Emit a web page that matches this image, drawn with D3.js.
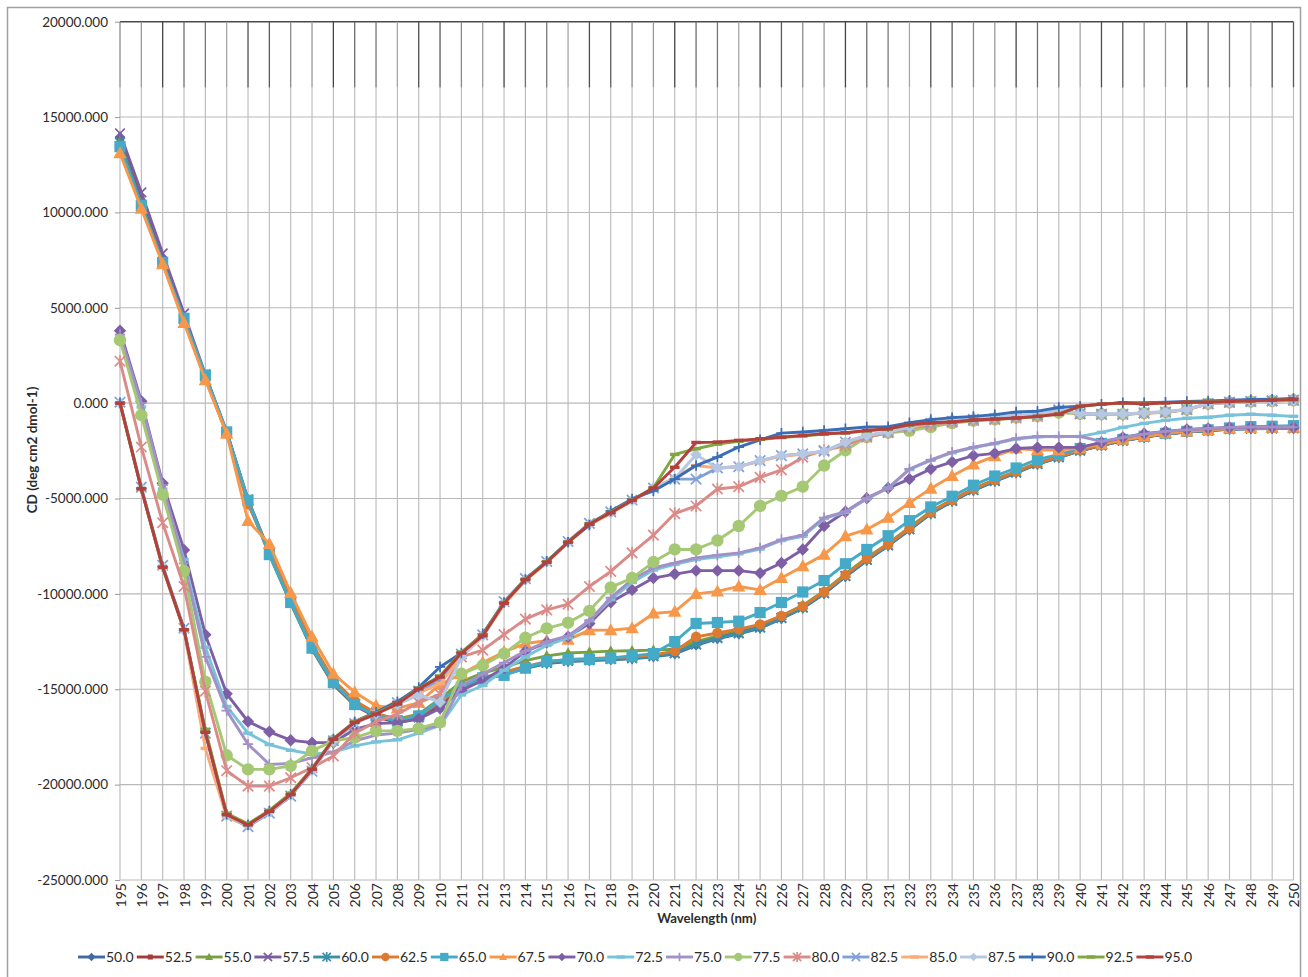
<!DOCTYPE html>
<html>
<head>
<meta charset="utf-8">
<script src="https://cdn.jsdelivr.net/npm/d3@7"></script>
<style>
  body { margin: 0; background: #fff; }
  text { font-family: Lato, "Open Sans", sans-serif; fill: #2b2b2b; }
</style>
</head>
<body>
<svg id="chart" width="1308" height="977"></svg>
<script>
// Wavelength categories (nm)
const wavelengths = [195,196,197,198,199,200,201,202,203,204,205,206,207,208,209,210,
  211,212,213,214,215,216,217,218,219,220,221,222,223,224,225,226,227,228,229,230,
  231,232,233,234,235,236,237,238,239,240,241,242,243,244,245,246,247,248,249,250];

const yTicks = [-25000,-20000,-15000,-10000,-5000,0,5000,10000,15000,20000];

// Series names (temperature, °C)
const temperatures = ["50.0","52.5","55.0","57.5","60.0","62.5","65.0","67.5","70.0","72.5",
  "75.0","77.5","80.0","82.5","85.0","87.5","90.0","92.5","95.0"];

// CD signal per temperature, one value per wavelength
const cd50_0 = [13950,10600,7600,4500,1400,-1550,-5100,-7850,-10400,-12850,-14700,-15800,-16400,-16700,-16500,-15750,-14950,-14500,-14200,-13900,-13650,-13550,-13500,-13450,-13400,-13300,-13150,-12700,-12350,-12100,-11800,-11300,-10750,-10000,-9100,-8250,-7480,-6650,-5800,-5150,-4580,-4100,-3650,-3200,-2850,-2500,-2220,-1970,-1790,-1620,-1520,-1440,-1370,-1340,-1330,-1330];
const cd52_5 = [13800,10500,7500,4450,1380,-1580,-5150,-7900,-10450,-12900,-14750,-15850,-16450,-16750,-16550,-15800,-14900,-14450,-14150,-13850,-13600,-13500,-13450,-13400,-13350,-13250,-13100,-12600,-12280,-12030,-11720,-11220,-10680,-9930,-9030,-8180,-7420,-6580,-5740,-5100,-4530,-4050,-3610,-3170,-2820,-2480,-2200,-1950,-1770,-1600,-1500,-1420,-1350,-1320,-1310,-1300];
const cd55_0 = [13750,10450,7450,4400,1350,-1600,-5200,-7950,-10500,-12900,-14700,-15750,-16300,-16550,-16300,-15500,-14600,-14150,-13850,-13500,-13250,-13100,-13050,-13000,-12980,-12950,-12900,-12500,-12200,-11950,-11650,-11150,-10600,-9850,-8950,-8100,-7350,-6520,-5680,-5050,-4480,-4000,-3570,-3130,-2790,-2450,-2180,-1930,-1760,-1590,-1490,-1410,-1340,-1310,-1300,-1300];
const cd57_5 = [14150,11050,7850,4700,1500,-1500,-5050,-7800,-10350,-12800,-14650,-15750,-16350,-16650,-16450,-15700,-14900,-14450,-14150,-13850,-13600,-13500,-13450,-13400,-13350,-13250,-13100,-12650,-12300,-12050,-11750,-11250,-10700,-9950,-9050,-8200,-7440,-6600,-5760,-5110,-4550,-4070,-3630,-3180,-2830,-2490,-2210,-1960,-1780,-1610,-1510,-1430,-1360,-1330,-1320,-1310];
const cd60_0 = [13650,10400,7400,4400,1420,-1520,-5080,-7900,-10420,-12850,-14680,-15800,-16420,-16700,-16480,-15650,-14920,-14480,-14230,-13900,-13620,-13520,-13480,-13420,-13380,-13280,-13120,-12640,-12320,-12070,-11770,-11270,-10720,-9970,-9070,-8220,-7460,-6620,-5780,-5130,-4560,-4080,-3640,-3190,-2840,-2490,-2210,-1960,-1780,-1610,-1510,-1430,-1360,-1330,-1320,-1320];
const cd62_5 = [13400,10300,7350,4300,1300,-1580,-5300,-7700,-10200,-12600,-14500,-15600,-16250,-16600,-16400,-15650,-14850,-14400,-14100,-13800,-13550,-13450,-13400,-13350,-13300,-13200,-13000,-12250,-12050,-11850,-11600,-11150,-10650,-9900,-9000,-8150,-7400,-6560,-5720,-5080,-4510,-4030,-3590,-3150,-2800,-2470,-2190,-1940,-1760,-1590,-1490,-1410,-1340,-1310,-1300,-1290];
const cd65_0 = [13450,10370,7380,4450,1480,-1510,-5090,-7940,-10450,-12830,-14650,-15800,-16400,-16650,-16400,-15550,-14900,-14400,-14270,-13890,-13540,-13430,-13430,-13360,-13250,-13130,-12500,-11550,-11500,-11430,-10980,-10450,-9900,-9300,-8420,-7670,-6950,-6160,-5440,-4880,-4300,-3820,-3400,-2950,-2700,-2380,-2110,-1900,-1740,-1580,-1480,-1400,-1300,-1230,-1210,-1180];
const cd67_5 = [13100,10190,7290,4210,1210,-1600,-6180,-7380,-9950,-12250,-14190,-15150,-15860,-16000,-15700,-14750,-14200,-13600,-13050,-12600,-12450,-12400,-11900,-11900,-11800,-11030,-10930,-10000,-9870,-9610,-9790,-9170,-8550,-7940,-6970,-6620,-6000,-5230,-4480,-3820,-3220,-2780,-2380,-2460,-2460,-2350,-2150,-1920,-1750,-1580,-1480,-1400,-1330,-1300,-1290,-1290];
const cd70_0 = [3800,100,-4200,-7700,-12140,-15240,-16690,-17230,-17670,-17800,-17800,-17100,-16800,-16750,-16550,-16000,-15060,-14540,-13890,-13010,-12550,-12250,-11550,-10440,-9790,-9170,-8960,-8780,-8780,-8780,-8910,-8380,-7670,-6440,-5690,-4980,-4450,-3980,-3450,-3080,-2750,-2630,-2380,-2320,-2320,-2320,-2060,-1800,-1600,-1480,-1380,-1320,-1270,-1260,-1260,-1270];
const cd72_5 = [3500,-200,-4500,-8200,-12800,-15900,-17300,-17900,-18200,-18400,-18300,-17970,-17760,-17650,-17300,-16900,-15300,-14800,-14000,-13300,-12700,-12300,-11400,-10300,-9400,-8750,-8450,-8200,-8050,-7900,-7650,-7200,-6980,-6050,-5720,-5020,-4450,-3480,-3000,-2600,-2330,-2120,-1880,-1760,-1750,-1750,-1530,-1270,-1060,-900,-790,-740,-630,-580,-630,-690];
const cd75_0 = [3600,0,-4300,-8400,-13300,-16120,-17880,-18940,-18890,-18600,-18300,-17700,-17400,-17300,-17100,-16900,-14800,-14200,-13600,-13000,-12500,-12200,-11400,-10200,-9250,-8640,-8380,-8110,-7970,-7850,-7590,-7150,-6920,-6000,-5690,-4980,-4450,-3450,-2970,-2570,-2310,-2100,-1850,-1740,-1740,-1740,-2010,-1800,-1620,-1480,-1400,-1330,-1270,-1250,-1250,-1250];
const cd77_5 = [3300,-630,-4800,-8800,-14600,-18460,-19200,-19200,-19020,-18230,-17700,-17530,-17180,-17180,-17050,-16740,-14190,-13750,-13130,-12300,-11810,-11510,-10890,-9660,-9170,-8330,-7670,-7670,-7200,-6440,-5390,-4860,-4380,-3270,-2480,-1780,-1550,-1450,-1250,-1050,-920,-850,-750,-680,-500,-560,-580,-580,-520,-470,-340,-30,40,80,110,150];
const cd80_0 = [2200,-2300,-6270,-9610,-15100,-19270,-20080,-20080,-19640,-19110,-18500,-17300,-16700,-16300,-15700,-15250,-13300,-12950,-12130,-11320,-10840,-10540,-9610,-8820,-7850,-6920,-5790,-5390,-4500,-4380,-3890,-3500,-2830,-2480,-2220,-1780,-1550,-1300,-1150,-1000,-900,-850,-780,-700,-400,-560,-590,-590,-530,-480,-340,-40,40,90,120,150];
const cd82_5 = [50,-4400,-8500,-11800,-17300,-21650,-22200,-21500,-20600,-19300,-17700,-16800,-16250,-15700,-15100,-14500,-13150,-12150,-10400,-9200,-8300,-7250,-6300,-5700,-5080,-4450,-3980,-3980,-3400,-3330,-3010,-2750,-2660,-2520,-2040,-1690,-1510,-1250,-1050,-950,-850,-820,-700,-620,-350,-545,-580,-580,-510,-460,-330,-20,50,90,120,160];
const cd85_0 = [0,-4500,-8650,-11950,-18100,-21700,-22150,-21450,-20550,-19250,-17650,-16700,-16200,-15600,-15200,-14700,-13300,-12250,-10550,-9300,-8380,-7320,-6380,-5780,-5130,-4480,-3900,-3270,-3400,-3330,-3050,-2780,-2680,-2540,-2060,-1700,-1520,-1260,-1060,-960,-860,-830,-710,-630,-380,-560,-590,-590,-520,-470,-340,-30,40,80,110,150];
const cd87_5 = [0,-4450,-8550,-11900,-17200,-21600,-22150,-21450,-20550,-19250,-17700,-16750,-16300,-15800,-15300,-15680,-13300,-12200,-10450,-9250,-8320,-7280,-6340,-5740,-5100,-4450,-3950,-2700,-3400,-3330,-3010,-2750,-2660,-2520,-2040,-1690,-1510,-1250,-950,-850,-780,-720,-650,-580,-330,-540,-570,-570,-500,-450,-320,-20,50,90,120,160];
const cd90_0 = [30,-4480,-8580,-11850,-17250,-21550,-22100,-21380,-20500,-19180,-17600,-16700,-16200,-15650,-14900,-13830,-13100,-12090,-10450,-9240,-8290,-7290,-6390,-5650,-5020,-4600,-3980,-3270,-2830,-2300,-1920,-1570,-1510,-1430,-1340,-1250,-1230,-1020,-860,-760,-690,-600,-460,-420,-230,-160,-50,20,20,50,90,120,160,190,210,250];
const cd92_5 = [0,-4490,-8600,-11880,-17100,-21500,-22050,-21350,-20450,-19150,-17600,-16700,-16250,-15750,-14950,-14300,-13050,-12150,-10450,-9220,-8320,-7270,-6320,-5720,-5080,-4430,-2690,-2390,-2150,-2000,-1900,-1800,-1720,-1620,-1560,-1450,-1350,-1150,-1060,-980,-900,-840,-790,-700,-560,-170,-60,10,-30,20,50,60,90,120,150,180];
const cd95_0 = [0,-4490,-8600,-11880,-17260,-21580,-22110,-21400,-20520,-19200,-17620,-16740,-16300,-15770,-14980,-14360,-13100,-12200,-10490,-9260,-8340,-7290,-6340,-5750,-5100,-4450,-3360,-2060,-2040,-1950,-1870,-1780,-1690,-1600,-1550,-1430,-1340,-1120,-1030,-990,-880,-830,-775,-690,-580,-160,-50,20,-50,20,50,50,90,120,160,190];

const seriesValues = [cd50_0,cd52_5,cd55_0,cd57_5,cd60_0,cd62_5,cd65_0,cd67_5,cd70_0,cd72_5,
  cd75_0,cd77_5,cd80_0,cd82_5,cd85_0,cd87_5,cd90_0,cd92_5,cd95_0];

// Styling per series
const colors = ["#3f6aa4","#a23c39","#78a03f","#7b5da0","#3a90aa","#db7a30","#45aac8","#f6974a","#7e5fa6","#78c3da",
  "#a291c6","#a5c874","#da8b87","#7fa0d8","#f9ac7a","#b6c7e3","#3b6db5","#80a640","#b4403d"];
const markerShapes = ["diamond","smallsquare","triangle","x","star","circle","square","triangle","diamond","dash",
  "plus","circle","star","x","dash","diamond","plus","dash","dash"];
const markerSizes = [5.2,2.8,5.8,4.8,4.8,5.2,5.6,7,6.2,4.8,5.2,6.2,5.2,5.2,4.8,5.8,5.2,4.8,4.8];

const series = temperatures.map((name, i) => ({
  name, color: colors[i], shape: markerShapes[i], size: markerSizes[i],
  points: wavelengths.map((w, j) => ({ w, v: seriesValues[i][j] }))
}));

const svg = d3.select("#chart");
const W = 1308, H = 977;
const plot = { left: 120, right: 1293.5, top: 21.7, bottom: 880 };

const x = d3.scalePoint().domain(wavelengths).range([plot.left, plot.right]);
const y = d3.scaleLinear().domain([-25000, 20000]).range([plot.bottom, plot.top]);
const fmt = d => d3.format(".3f")(d).replace("\u2212", "-");

// chart frame
svg.append("rect").attr("x", 7.5).attr("y", 7.5).attr("width", W - 15).attr("height", H + 10)
  .attr("fill", "#fff").attr("stroke", "#a0a0a0").attr("stroke-width", 1.5);

// gridlines
const grid = svg.append("g");
grid.selectAll("line.h").data(yTicks).join("line")
  .attr("x1", plot.left).attr("x2", plot.right)
  .attr("y1", d => y(d)).attr("y2", d => y(d))
  .attr("stroke", d => d === 20000 ? "#4a4a4a" : "#b9b9b9").attr("stroke-width", d => d === 20000 ? 1.6 : 1.1);
grid.selectAll("line.v").data(wavelengths).join("line")
  .attr("x1", d => x(d)).attr("x2", d => x(d))
  .attr("y1", y(16550)).attr("y2", plot.bottom)
  .attr("stroke", "#b9b9b9").attr("stroke-width", 1.1);
const topShades = ["#8a8a8a","#6e6e6e","#4e4e4e","#9a9a9a","#777","#5a5a5a","#444","#a5a5a5"];
grid.selectAll("line.vt").data(wavelengths).join("line")
  .attr("x1", d => x(d)).attr("x2", d => x(d))
  .attr("y1", plot.top).attr("y2", y(16550))
  .attr("stroke", (d, i) => topShades[(i * 3) % topShades.length]).attr("stroke-width", 1.3);

// y axis
const yAxis = svg.append("g").attr("transform", `translate(${plot.left},0)`)
  .call(d3.axisLeft(y).tickValues(yTicks).tickFormat(fmt).tickSize(5).tickPadding(7));
yAxis.select(".domain").remove();
yAxis.selectAll(".tick line").attr("stroke", "#999");
yAxis.selectAll("text").style("font-family", "Lato, 'Open Sans', sans-serif").style("font-size", "13.5px").attr("fill", "#2b2b2b");

// x axis
const xAxis = svg.append("g").attr("transform", `translate(0,${plot.bottom})`)
  .call(d3.axisBottom(x).tickSize(0).tickPadding(0));
xAxis.select(".domain").remove();
xAxis.selectAll("text")
  .attr("transform", "rotate(-90)").attr("x", -3).attr("y", 0).attr("dy", "0.36em")
  .style("text-anchor", "end").style("font-family", "Lato, 'Open Sans', sans-serif").style("font-size", "14px")
  .attr("fill", "#2b2b2b");

// axis titles
svg.append("text").attr("x", (plot.left + plot.right) / 2).attr("y", 923)
  .attr("text-anchor", "middle").style("font-weight", "bold").style("font-size", "13.2px")
  .text("Wavelength (nm)");
svg.append("text").attr("transform", `translate(37,450) rotate(-90)`)
  .attr("text-anchor", "middle").style("font-weight", "bold").style("font-size", "13.5px")
  .text("CD (deg cm2 dmol-1)");

// marker drawing
function drawMarker(g, shape, r, color) {
  switch (shape) {
    case "diamond":
      g.append("path").attr("d", `M0,${-r}L${r},0L0,${r}L${-r},0Z`).attr("fill", color);
      break;
    case "square":
    case "smallsquare":
      g.append("rect").attr("x", -r).attr("y", -r).attr("width", 2 * r).attr("height", 2 * r).attr("fill", color);
      break;
    case "triangle":
      g.append("path").attr("d", `M0,${-r}L${r * 0.95},${r * 0.72}L${-r * 0.95},${r * 0.72}Z`).attr("fill", color);
      break;
    case "circle":
      g.append("circle").attr("r", r).attr("fill", color);
      break;
    case "x":
      g.append("path").attr("d", `M${-r},${-r}L${r},${r}M${-r},${r}L${r},${-r}`)
        .attr("stroke", color).attr("stroke-width", 1.7).attr("fill", "none");
      break;
    case "plus":
      g.append("path").attr("d", `M${-r},0L${r},0M0,${-r}L0,${r}`)
        .attr("stroke", color).attr("stroke-width", 1.7).attr("fill", "none");
      break;
    case "star":
      g.append("path").attr("d", `M${-r},${-r}L${r},${r}M${-r},${r}L${r},${-r}M0,${-r * 1.2}L0,${r * 1.2}`)
        .attr("stroke", color).attr("stroke-width", 1.7).attr("fill", "none");
      break;
    case "dash":
      g.append("rect").attr("x", -r).attr("y", -1.7).attr("width", 2 * r).attr("height", 3.4).attr("fill", color);
      break;
  }
}

// series lines + markers
const line = d3.line().x(d => x(d.w)).y(d => y(d.v));
const plotG = svg.append("g");
series.forEach(s => {
  const g = plotG.append("g");
  g.append("path").datum(s.points).attr("d", line)
    .attr("fill", "none").attr("stroke", s.color).attr("stroke-width", 2.9)
    .attr("stroke-linejoin", "round").attr("stroke-linecap", "round");
  g.selectAll("g.m").data(s.points).join("g")
    .attr("transform", d => `translate(${x(d.w)},${y(d.v)})`)
    .each(function () { drawMarker(d3.select(this), s.shape, s.size, s.color); });
});

// legend
const legend = svg.append("g").attr("transform", "translate(78,957)");
series.forEach((s, i) => {
  const item = legend.append("g").attr("transform", `translate(${i * 58.8},0)`);
  item.append("line").attr("x1", 0).attr("x2", 27).attr("y1", 0).attr("y2", 0)
    .attr("stroke", s.color).attr("stroke-width", 2.9);
  const mg = item.append("g").attr("transform", "translate(13.5,0)");
  drawMarker(mg, s.shape, Math.min(s.size, 4.6) * 0.9, s.color);
  item.append("text").attr("x", 28).attr("y", 0).attr("dy", "0.35em")
    .style("font-size", "14px").text(s.name);
});
</script>
</body>
</html>
